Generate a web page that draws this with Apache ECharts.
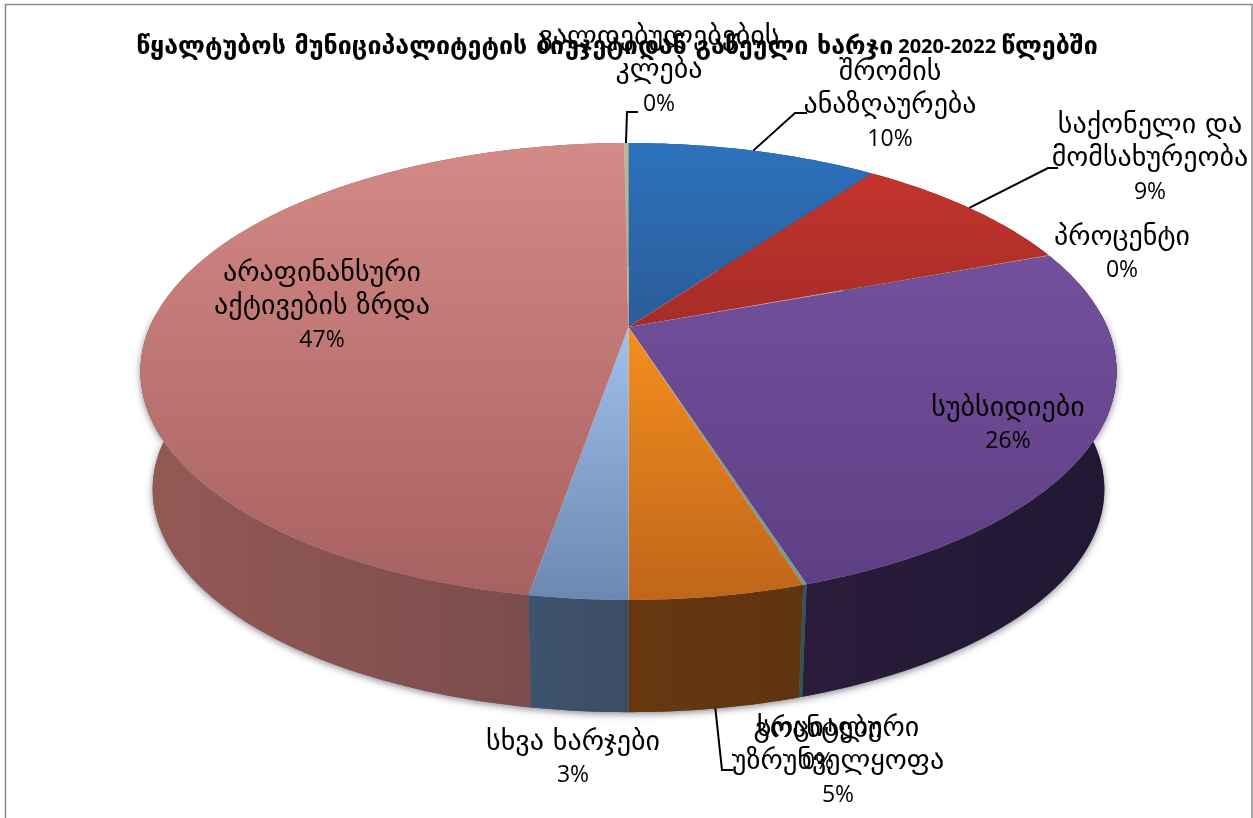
<!DOCTYPE html>
<html><head><meta charset="utf-8">
<style>html,body{margin:0;padding:0;background:#fff}#c{width:1253px;height:818px}</style>
<script src="https://cdn.jsdelivr.net/npm/echarts@6/dist/echarts.min.js"></script>
</head><body><div id="c"></div>
<script>
const titleStart = 'წყალტუბოს მუნიციპალიტეტის ბიუჯეტიდან გაწეული ხარჯი';
const titleYears = '2020-2022';
const titleEnd = 'წლებში';
const categories = ['შრომის\nანაზღაურება','საქონელი და\nმომსახურეობა','პროცენტი','სუბსიდიები','გრანტები','სოციალური\nუზრუნველყოფა','სხვა ხარჯები','არაფინანსური\nაქტივების ზრდა','ვალდებულებების\nკლება'];
const values = [10.0, 9.3, 0.1, 25.7, 0.1, 4.8, 2.7, 47.1, 0.2];

// styles and layout, kept apart from the data
const topColors = [['#2c72bd','#2b5c97'],['#c4342e','#a62c27'],['#c98a86','#b08080'],['#73509b','#5e3f85'],['#6f9a94','#6f9a94'],['#f48e1f','#bf661a'],['#a0c0ee','#6b88b0'],['#d48a86','#a76160'],['#c2b59b','#b5a88a']];
const sideColors = [['#1f3f66','#1f3f66'],['#6d1e1b','#6d1e1b'],['#5a3a3a','#5a3a3a'],['#2a1c3a','#201832'],['#335555','#335555'],['#683710','#5f3410'],['#3e536f','#3d4c63'],['#945955','#754a4a'],['#777766','#777766']];
const labelPos = [[890,106],[1150,159],[1122,254],[1008,425],[818,746],[838,762],[573,759],[322,307],[659,71]];
const leaderBends = [[[795,113],[807,113]],[[1048,168],[1058,168]],null,null,null,[[722,770],[733,770]],null,null,[[627,112],[638,112]]];
const FONT = '"DejaVu Sans"';
const NUMFONT = '"Open Sans","DejaVu Sans"';
const cx=628.5, cy=327, Rx=478.7, Ry=219.8, k=0.1948, botS=0.975, botD=119;

const total = values.reduce((a,b)=>a+b,0);
function proj(frac, bottom){
  const t=frac*2*Math.PI, u=Math.sin(t), v=Math.cos(t), w=1+k*v;
  const s=bottom?botS:1, d=bottom?botD:0;
  return [cx+s*Rx*u/w, cy+d-s*Ry*v/w];
}
function arc(a,b,bottom){
  const n=Math.max(2,Math.ceil((b-a)*360)), p=[];
  for(let i=0;i<=n;i++)p.push(proj(a+(b-a)*i/n,bottom));
  return p;
}
function textEl(str,x,y,size,family){
  return {type:'text',z2:200,style:{text:str,x,y,align:'center',verticalAlign:'middle',fill:'#000',fontSize:size,fontFamily:family}};
}
function renderItem(params, api){
  const i=params.dataIndex, val=api.value(0);
  let start=0; for(let j=0;j<i;j++) start+=values[j]/total;
  const end=start+val/total, mid=(start+end)/2;
  const topArc=arc(start,end,false), botArc=arc(start,end,true);
  const side=topArc.concat(botArc.slice().reverse());
  const xs=side.map(p=>p[0]), ys=topArc.map(p=>p[1]);
  const children=[];
  const sa=Math.max(start,0.24), sb=Math.min(end,0.76);
  if(sb>sa){
    children.push({type:'polygon',z2:0,shape:{points:arc(sa,sb,false).concat(arc(sa,sb,true).reverse())},style:{fill:'#666',shadowBlur:7,shadowColor:'rgba(40,40,60,0.55)',shadowOffsetY:2}});
  }
  children.push({type:'polygon',z2:2+Math.round(10*(1-Math.cos(mid*2*Math.PI))),shape:{points:side},style:{
    fill:{type:'linear',global:true,x:Math.min(...xs),y:0,x2:Math.max(...xs),y2:0,colorStops:[{offset:0,color:sideColors[i][0]},{offset:1,color:sideColors[i][1]}]}}});
  const yy=[cy].concat(ys), yMin=Math.min(...yy), yMax=Math.max(...yy);
  children.push({type:'polygon',z2:100,shape:{points:[[cx,cy]].concat(topArc)},style:{
    fill:{type:'linear',global:true,x:0,y:yMin,x2:0,y2:yMax+0.01,colorStops:[{offset:0,color:topColors[i][0]},{offset:1,color:topColors[i][1]}]}}});
  if(leaderBends[i]){
    const frontal=Math.cos(mid*2*Math.PI)<0;
    children.push({type:'polyline',z2:150,shape:{points:[proj(mid,frontal)].concat(leaderBends[i])},style:{stroke:'#000',lineWidth:2,fill:'none'}});
  }
  const lines=categories[i].split('\n');
  const n=lines.length+1, lh=33, y0=labelPos[i][1]-(n-1)/2*lh;
  lines.forEach((t,j)=>children.push(textEl(t,labelPos[i][0],y0+j*lh,28,FONT)));
  children.push(textEl(Math.round(val/total*100)+'%',labelPos[i][0],y0+(n-1)*lh,23,NUMFONT));
  return {type:'group',children};
}
const chart=echarts.init(document.getElementById('c'),null,{renderer:'canvas'});
chart.setOption({
  animation:false,
  backgroundColor:'#fff',
  title:{text:'{g|'+titleStart+'} {n|'+titleYears+'} {g|'+titleEnd+'}',left:612,top:42,textAlign:'center',textVerticalAlign:'middle',
    textStyle:{rich:{g:{fontFamily:FONT,fontWeight:'bold',fontSize:25,color:'#000'},n:{fontFamily:NUMFONT,fontWeight:'bold',fontSize:20,color:'#000'}}}},
  graphic:[{type:'polyline',silent:true,shape:{points:[[5.5,830],[5.5,4.5],[1252,4.5],[1252,830]]},style:{stroke:'#8c8c8c',lineWidth:1.5,fill:'none'}}],
  series:[{type:'custom',coordinateSystem:'none',silent:true,renderItem,data:values.map(v=>[v])}]
});
</script></body></html>
